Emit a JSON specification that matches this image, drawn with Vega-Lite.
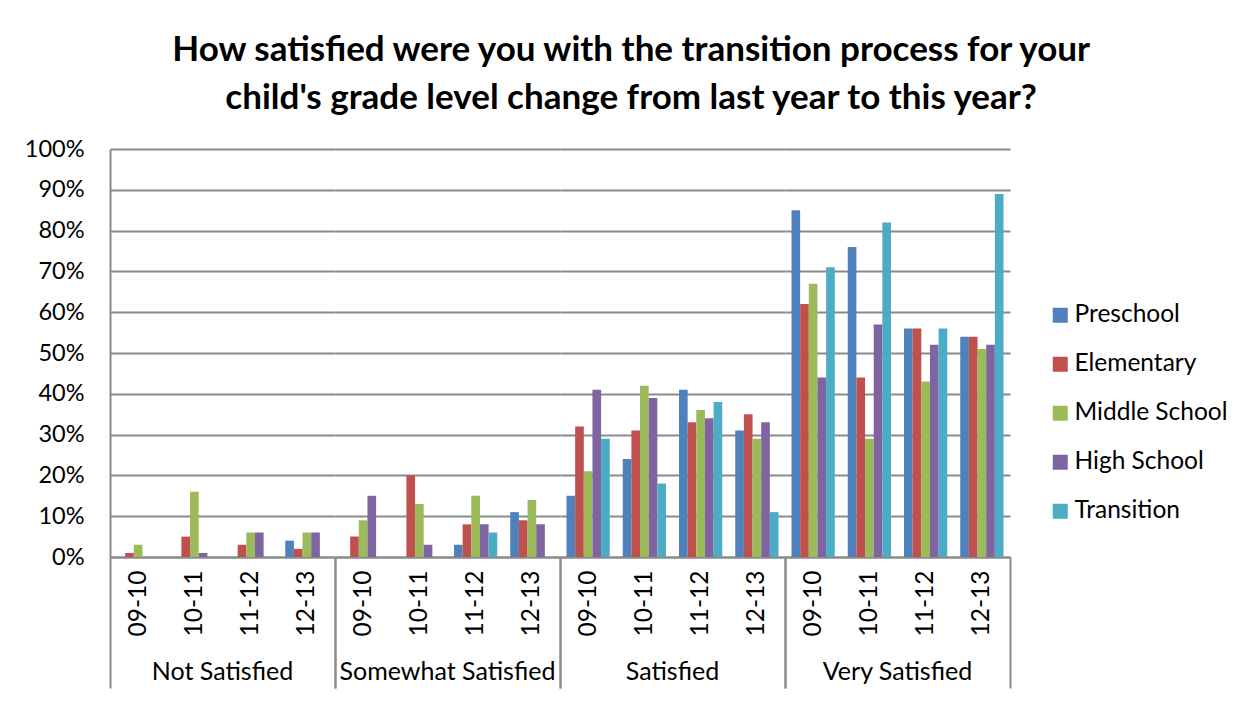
{
  "$schema": "https://vega.github.io/schema/vega-lite/v6.json",
  "padding": {"left": 24, "top": 33, "right": 10, "bottom": 5},
  "background": "white",
  "title": {
    "text": ["How satisfied were you with the transition process for your", "child's grade level change from last year to this year?"],
    "font": "Lato", "fontSize": 35, "fontWeight": "bold", "lineHeight": 48, "color": "black",
    "anchor": "middle", "dx": 5, "offset": 21
  },
  "data": {"values": [
    {"rating": "Not Satisfied", "year": "09-10", "level": "Preschool", "value": 0},
    {"rating": "Not Satisfied", "year": "09-10", "level": "Elementary", "value": 1},
    {"rating": "Not Satisfied", "year": "09-10", "level": "Middle School", "value": 3},
    {"rating": "Not Satisfied", "year": "09-10", "level": "High School", "value": 0},
    {"rating": "Not Satisfied", "year": "09-10", "level": "Transition", "value": 0},
    {"rating": "Not Satisfied", "year": "10-11", "level": "Preschool", "value": 0},
    {"rating": "Not Satisfied", "year": "10-11", "level": "Elementary", "value": 5},
    {"rating": "Not Satisfied", "year": "10-11", "level": "Middle School", "value": 16},
    {"rating": "Not Satisfied", "year": "10-11", "level": "High School", "value": 1},
    {"rating": "Not Satisfied", "year": "10-11", "level": "Transition", "value": 0},
    {"rating": "Not Satisfied", "year": "11-12", "level": "Preschool", "value": 0},
    {"rating": "Not Satisfied", "year": "11-12", "level": "Elementary", "value": 3},
    {"rating": "Not Satisfied", "year": "11-12", "level": "Middle School", "value": 6},
    {"rating": "Not Satisfied", "year": "11-12", "level": "High School", "value": 6},
    {"rating": "Not Satisfied", "year": "11-12", "level": "Transition", "value": 0},
    {"rating": "Not Satisfied", "year": "12-13", "level": "Preschool", "value": 4},
    {"rating": "Not Satisfied", "year": "12-13", "level": "Elementary", "value": 2},
    {"rating": "Not Satisfied", "year": "12-13", "level": "Middle School", "value": 6},
    {"rating": "Not Satisfied", "year": "12-13", "level": "High School", "value": 6},
    {"rating": "Not Satisfied", "year": "12-13", "level": "Transition", "value": 0},
    {"rating": "Somewhat Satisfied", "year": "09-10", "level": "Preschool", "value": 0},
    {"rating": "Somewhat Satisfied", "year": "09-10", "level": "Elementary", "value": 5},
    {"rating": "Somewhat Satisfied", "year": "09-10", "level": "Middle School", "value": 9},
    {"rating": "Somewhat Satisfied", "year": "09-10", "level": "High School", "value": 15},
    {"rating": "Somewhat Satisfied", "year": "09-10", "level": "Transition", "value": 0},
    {"rating": "Somewhat Satisfied", "year": "10-11", "level": "Preschool", "value": 0},
    {"rating": "Somewhat Satisfied", "year": "10-11", "level": "Elementary", "value": 20},
    {"rating": "Somewhat Satisfied", "year": "10-11", "level": "Middle School", "value": 13},
    {"rating": "Somewhat Satisfied", "year": "10-11", "level": "High School", "value": 3},
    {"rating": "Somewhat Satisfied", "year": "10-11", "level": "Transition", "value": 0},
    {"rating": "Somewhat Satisfied", "year": "11-12", "level": "Preschool", "value": 3},
    {"rating": "Somewhat Satisfied", "year": "11-12", "level": "Elementary", "value": 8},
    {"rating": "Somewhat Satisfied", "year": "11-12", "level": "Middle School", "value": 15},
    {"rating": "Somewhat Satisfied", "year": "11-12", "level": "High School", "value": 8},
    {"rating": "Somewhat Satisfied", "year": "11-12", "level": "Transition", "value": 6},
    {"rating": "Somewhat Satisfied", "year": "12-13", "level": "Preschool", "value": 11},
    {"rating": "Somewhat Satisfied", "year": "12-13", "level": "Elementary", "value": 9},
    {"rating": "Somewhat Satisfied", "year": "12-13", "level": "Middle School", "value": 14},
    {"rating": "Somewhat Satisfied", "year": "12-13", "level": "High School", "value": 8},
    {"rating": "Somewhat Satisfied", "year": "12-13", "level": "Transition", "value": 0},
    {"rating": "Satisfied", "year": "09-10", "level": "Preschool", "value": 15},
    {"rating": "Satisfied", "year": "09-10", "level": "Elementary", "value": 32},
    {"rating": "Satisfied", "year": "09-10", "level": "Middle School", "value": 21},
    {"rating": "Satisfied", "year": "09-10", "level": "High School", "value": 41},
    {"rating": "Satisfied", "year": "09-10", "level": "Transition", "value": 29},
    {"rating": "Satisfied", "year": "10-11", "level": "Preschool", "value": 24},
    {"rating": "Satisfied", "year": "10-11", "level": "Elementary", "value": 31},
    {"rating": "Satisfied", "year": "10-11", "level": "Middle School", "value": 42},
    {"rating": "Satisfied", "year": "10-11", "level": "High School", "value": 39},
    {"rating": "Satisfied", "year": "10-11", "level": "Transition", "value": 18},
    {"rating": "Satisfied", "year": "11-12", "level": "Preschool", "value": 41},
    {"rating": "Satisfied", "year": "11-12", "level": "Elementary", "value": 33},
    {"rating": "Satisfied", "year": "11-12", "level": "Middle School", "value": 36},
    {"rating": "Satisfied", "year": "11-12", "level": "High School", "value": 34},
    {"rating": "Satisfied", "year": "11-12", "level": "Transition", "value": 38},
    {"rating": "Satisfied", "year": "12-13", "level": "Preschool", "value": 31},
    {"rating": "Satisfied", "year": "12-13", "level": "Elementary", "value": 35},
    {"rating": "Satisfied", "year": "12-13", "level": "Middle School", "value": 29},
    {"rating": "Satisfied", "year": "12-13", "level": "High School", "value": 33},
    {"rating": "Satisfied", "year": "12-13", "level": "Transition", "value": 11},
    {"rating": "Very Satisfied", "year": "09-10", "level": "Preschool", "value": 85},
    {"rating": "Very Satisfied", "year": "09-10", "level": "Elementary", "value": 62},
    {"rating": "Very Satisfied", "year": "09-10", "level": "Middle School", "value": 67},
    {"rating": "Very Satisfied", "year": "09-10", "level": "High School", "value": 44},
    {"rating": "Very Satisfied", "year": "09-10", "level": "Transition", "value": 71},
    {"rating": "Very Satisfied", "year": "10-11", "level": "Preschool", "value": 76},
    {"rating": "Very Satisfied", "year": "10-11", "level": "Elementary", "value": 44},
    {"rating": "Very Satisfied", "year": "10-11", "level": "Middle School", "value": 29},
    {"rating": "Very Satisfied", "year": "10-11", "level": "High School", "value": 57},
    {"rating": "Very Satisfied", "year": "10-11", "level": "Transition", "value": 82},
    {"rating": "Very Satisfied", "year": "11-12", "level": "Preschool", "value": 56},
    {"rating": "Very Satisfied", "year": "11-12", "level": "Elementary", "value": 56},
    {"rating": "Very Satisfied", "year": "11-12", "level": "Middle School", "value": 43},
    {"rating": "Very Satisfied", "year": "11-12", "level": "High School", "value": 52},
    {"rating": "Very Satisfied", "year": "11-12", "level": "Transition", "value": 56},
    {"rating": "Very Satisfied", "year": "12-13", "level": "Preschool", "value": 54},
    {"rating": "Very Satisfied", "year": "12-13", "level": "Elementary", "value": 54},
    {"rating": "Very Satisfied", "year": "12-13", "level": "Middle School", "value": 51},
    {"rating": "Very Satisfied", "year": "12-13", "level": "High School", "value": 52},
    {"rating": "Very Satisfied", "year": "12-13", "level": "Transition", "value": 89}
  ]},
  "spacing": 0,
  "bounds": "flush",
  "facet": {
    "column": {
      "field": "rating", "type": "nominal",
      "sort": ["Not Satisfied", "Somewhat Satisfied", "Satisfied", "Very Satisfied"],
      "header": {
        "title": null, "orient": "bottom", "labelOrient": "bottom",
        "labelFont": "Lato", "labelFontSize": 25, "labelColor": "black", "labelPadding": -29
      }
    }
  },
  "spec": {
    "width": 225,
    "height": 408,
    "mark": {"type": "bar"},
    "encoding": {
      "x": {
        "field": "year", "type": "nominal", "title": null,
        "scale": {"paddingInner": 0, "paddingOuter": 0},
        "axis": {"labelAngle": -90, "labelFont": "Lato", "labelFontSize": 24.5, "labelColor": "black",
                 "labelPadding": -118, "ticks": true, "tickBand": "extent", "tickSize": 131,
                 "tickColor": "#8a8a8a", "tickWidth": 2,
                 "tickOpacity": {"condition": {"test": "datum.value == '12-13' || datum.extra", "value": 1}, "value": 0},
                 "domainColor": "#8a8a8a", "domainWidth": 2, "grid": false}
      },
      "xOffset": {"field": "level", "type": "nominal",
                  "sort": ["Preschool", "Elementary", "Middle School", "High School", "Transition"],
                  "scale": {"paddingInner": 0, "paddingOuter": 0.75}},
      "y": {
        "field": "value", "type": "quantitative", "title": null,
        "scale": {"domain": [0, 100]},
        "axis": {"values": [0, 10, 20, 30, 40, 50, 60, 70, 80, 90, 100], "labelExpr": "datum.value + '%'",
                 "labelFont": "Lato", "labelFontSize": 23.5, "labelColor": "black", "labelPadding": 26,
                 "ticks": false, "domainColor": "#8a8a8a", "domainWidth": 2,
                 "grid": true, "gridColor": "#8a8a8a", "gridWidth": 2}
      },
      "color": {
        "field": "level", "type": "nominal", "title": null,
        "scale": {"domain": ["Preschool", "Elementary", "Middle School", "High School", "Transition"],
                  "range": ["#4F81BD", "#C0504D", "#9BBB59", "#8064A2", "#4BACC6"]},
        "legend": {
          "orient": "none", "legendX": 938, "legendY": 154,
          "symbolType": "square", "symbolSize": 225, "symbolStrokeWidth": 0, "symbolOpacity": 1,
          "labelFont": "Lato", "labelFontSize": 24.5, "labelColor": "black", "labelOffset": 2,
          "rowPadding": 24, "padding": 0
        }
      }
    }
  },
  "config": {
    "view": {"stroke": null},
    "axis": {"labelFlush": false}
  }
}
